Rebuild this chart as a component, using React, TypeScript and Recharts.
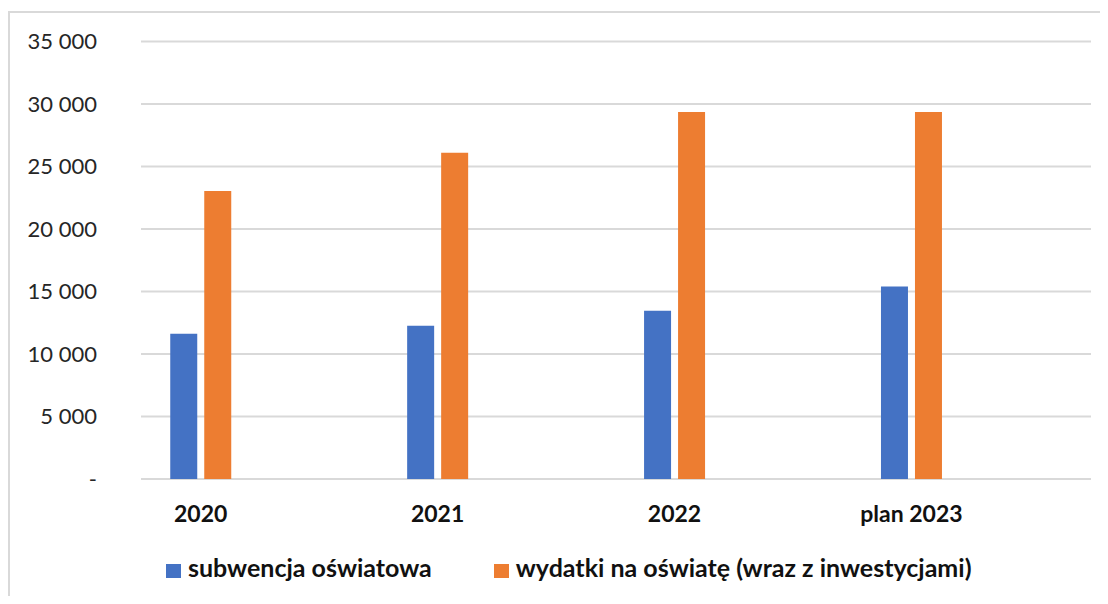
import React from 'react';
import { BarChart, Bar, XAxis, YAxis, CartesianGrid, Legend } from 'recharts';

const categories = ['2020', '2021', '2022', 'plan 2023'];
const subwencja = [11630, 12270, 13460, 15400];
const wydatki = [23040, 26100, 29370, 29370];
const seriesNames = ['subwencja oświatowa', 'wydatki na oświatę (wraz z inwestycjami)'];
const seriesColors = ['#4472C4', '#ED7D31'];
const yTicks = [0, 5000, 10000, 15000, 20000, 25000, 30000, 35000];
const xPositions = [0, 1, 2, 3];

const data = categories.map((c, i) => ({
  x: xPositions[i],
  name: c,
  subwencja: subwencja[i],
  wydatki: wydatki[i],
}));

const FONT = 'Lato, "Open Sans", sans-serif';

const fmtY = (v: number) =>
  v === 0 ? '-' : String(v).replace(/\B(?=(\d{3})+(?!\d))/g, '\u00A0');

const renderLegend = (props: any) => {
  const payload = props.payload || [];
  return (
    <div
      style={{
        display: 'flex',
        fontFamily: FONT,
        fontWeight: 700,
        fontSize: 25,
        lineHeight: '28px',
        color: '#111',
        whiteSpace: 'nowrap',
      }}
    >
      {payload.map((e: any, i: number) => (
        <div
          key={i}
          style={{ display: 'flex', alignItems: 'flex-start', marginRight: i === 0 ? 62 : 0 }}
        >
          <span
            style={{
              display: 'inline-block',
              width: 15,
              height: 14,
              background: e.color,
              marginTop: 11,
              marginRight: 7,
            }}
          />
          <span>{e.value}</span>
        </div>
      ))}
    </div>
  );
};

export default function App() {
  return (
    <div style={{ position: 'relative', width: 1092, height: 588 }}>
      <div
        style={{
          position: 'absolute',
          left: 0,
          top: 3,
          right: 0,
          bottom: 0,
          borderTop: '2px solid #d9d9d9',
          borderLeft: '2px solid #d9d9d9',
        }}
      />
      <BarChart
        width={1092}
        height={588}
        data={data}
        margin={{ top: 33.5, right: 9, bottom: 87, left: 0 }}
        barSize={27}
        barGap={7}
        style={{ fontFamily: FONT }}
      >
        <CartesianGrid horizontal vertical={false} stroke="#d9d9d9" strokeWidth={2} />
        <XAxis
          dataKey="x"
          type="number"
          domain={[-0.252, 3.758]}
          ticks={xPositions}
          interval={0}
          tickFormatter={(v: number) => categories[v] ?? ''}
          axisLine={false}
          tickLine={false}
          tickSize={0}
          tickMargin={27}
          height={30}
          tick={{ fontSize: 23, fontWeight: 700, fill: '#111', fontFamily: FONT }}
        />
        <YAxis
          domain={[0, 35000]}
          ticks={yTicks}
          interval={0}
          tickFormatter={fmtY}
          axisLine={false}
          tickLine={false}
          tickSize={0}
          tickMargin={44}
          width={133}
          tick={{ fontSize: 22, fill: '#262626', fontFamily: FONT }}
        />
        <Legend
          layout="horizontal"
          verticalAlign="middle"
          align="center"
          wrapperStyle={{ top: 545, left: 158, width: 'auto' }}
          content={renderLegend}
        />
        <Bar dataKey="subwencja" name={seriesNames[0]} fill={seriesColors[0]} isAnimationActive={false} />
        <Bar dataKey="wydatki" name={seriesNames[1]} fill={seriesColors[1]} isAnimationActive={false} />
      </BarChart>
    </div>
  );
}
